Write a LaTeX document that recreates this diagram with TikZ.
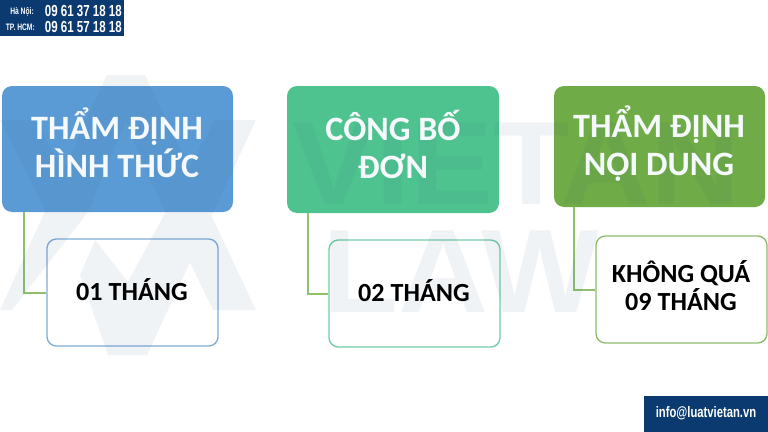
\documentclass[tikz,border=0pt]{standalone}
\usepackage{fontspec}
\usepackage{tikz}
\usetikzlibrary{calc}
\setmainfont{Carlito}
\newfontfamily\wmfont{Liberation Sans}
\definecolor{cblue}{HTML}{5B9BD5}
\definecolor{cgreen}{HTML}{4FC38F}
\definecolor{colive}{HTML}{6FAC47}
\definecolor{lblue}{HTML}{7FADD8}
\definecolor{lgreen}{HTML}{70CDA4}
\definecolor{lolive}{HTML}{8DBD6C}
\definecolor{connc}{HTML}{8FC06C}
\definecolor{navy}{HTML}{0B3A70}
\definecolor{wm}{HTML}{2A5082}
\tikzset{
  bsize/.style 2 args={minimum width=#1*0.75pt,minimum height=#2*0.75pt},
  headbox/.style={rectangle,rounded corners=7.5pt,inner sep=0pt},
  subbox/.style={rectangle,rounded corners=7pt,inner sep=0pt,fill=white,line width=1pt},
  headtext/.style={anchor=base,text=white!94!cblue,inner sep=0pt,font=\fontsize{25.6}{25.6}\selectfont\bfseries},
  subtext/.style={anchor=base,text=black,inner sep=0pt,font=\fontsize{19.6}{19.6}\selectfont\bfseries},
  wire/.style={draw=connc,line width=1.5pt},
  wmtext/.style={anchor=base west,inner sep=0pt,text=wm,text opacity=0.065,xscale=1.05,transform shape,font=\wmfont\fontsize{89}{89}\selectfont\bfseries},
  bar/.style={fill=navy,rectangle,inner sep=0pt},
  phone/.style={text=white,inner sep=0pt,transform shape}
}
\begin{document}
\begin{tikzpicture}[x=0.75pt,y=-0.75pt]
\useasboundingbox (0,0) rectangle (768,432);
\fill[white] (0,0) rectangle (768,432);
% connectors and boxes
\node[subbox,draw=lblue,bsize={171}{107}] (s1) at (132.5,292.5) {};
\node[subbox,draw=lgreen,bsize={171}{107}] (s2) at (414.5,293.5) {};
\node[subbox,draw=lolive,bsize={171}{107}] (s3) at (681.5,289.5) {};
\node[headbox,fill=cblue,bsize={231}{126}] (h1) at (117.5,149) {};
\node[headbox,fill=cgreen,bsize={212}{127}] (h2) at (393,149.5) {};
\node[headbox,fill=colive,bsize={211}{121}] (h3) at (659.5,146.5) {};
\draw[wire] ($(h1.south west)+(22,0)$) |- (s1.west);
\draw[wire] ($(h2.south west)+(21,0)$) |- (s2.west);
\draw[wire] ($(h3.south west)+(20,0)$) |- (s3.west);
% watermark
\fill[wm,opacity=0.065]
  (107,75) -- (0,310) -- (12,310) -- (88,212) -- (145,75) -- cycle
  (107,75) -- (125,120) -- (150,180) -- (213,310) -- (256,310) -- (145,75) -- cycle
  (95,240) -- (80,275) -- (108,355) -- (147,355) -- (256,120) -- (215,120) -- (128,282) -- cycle
  (0,120) -- (46,212) -- (86,212) -- (35,120) -- cycle;
\node[wmtext] (wm1) at (292,204) {VIETAN};
\node[wmtext] (wm2) at (322,312) {LAW};
% texts
\node[headtext] (t1a) at (117,139) {THẨM ĐỊNH};
\node[headtext] (t1b) at (117,177) {HÌNH THỨC};
\node[headtext] (t2a) at (393,140) {CÔNG BỐ};
\node[headtext] (t2b) at (393,178) {ĐƠN};
\node[headtext] (t3a) at (659,137) {THẨM ĐỊNH};
\node[headtext] (t3b) at (659,175) {NỘI DUNG};
\node[subtext] (u1) at (132,300) {01 THÁNG};
\node[subtext] (u2) at (414,301) {02 THÁNG};
\node[subtext] (u3a) at (681,282) {KHÔNG QUÁ};
\node[subtext] (u3b) at (681,310) {09 THÁNG};
% contact bars
\node[bar,bsize={124}{36}] (top) at (62,18) {};
\node[bar,bsize={124}{36}] (bot) at (706,413.5) {};
\node[phone,anchor=east,xscale=.72,font=\wmfont\bfseries\fontsize{7}{7}\selectfont] (p1) at (34,11.5) {Hà Nội:};
\node[phone,anchor=east,xscale=.72,font=\wmfont\bfseries\fontsize{7}{7}\selectfont] (p2) at (35,27) {TP. HCM:};
\node[phone,anchor=east,xscale=.72,font=\wmfont\bfseries\fontsize{12}{12}\selectfont] (n1) at (122,11.5) {09 61 37 18 18};
\node[phone,anchor=east,xscale=.72,font=\wmfont\bfseries\fontsize{12}{12}\selectfont] (n2) at (122,26.5) {09 61 57 18 18};
\node[phone,xscale=.74,font=\wmfont\bfseries\fontsize{11.4}{11.4}\selectfont] (mail) at (706,413.5) {info@luatvietan.vn};
\end{tikzpicture}
\end{document}
